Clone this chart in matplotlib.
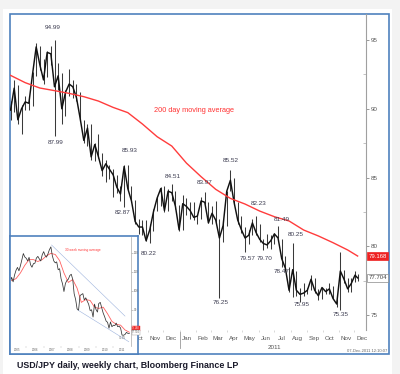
import matplotlib
matplotlib.use('Agg')
import matplotlib.pyplot as plt
import matplotlib.dates as mdates
import matplotlib.transforms as mtransforms
from matplotlib.patches import Rectangle
import pandas as pd

plt.rcParams['font.family'] = ['Liberation Sans', 'DejaVu Sans']

############ main chart: weekly bars of USD/JPY ############
week_dates = list(pd.date_range('2010-02-12', '2011-12-02', freq='W-FRI')) + [pd.Timestamp('2011-12-07')]
week_high = [90.6, 92.1, 91.7, 90.3, 90.9, 90.9, 92.7, 94.8, 94.6, 93.6, 94.2, 94.6, 94.99, 93.3, 92.6, 91.4,
             92.9, 92.1, 91.8, 91.2, 89.2, 88.9, 88.9, 87.5, 88.2, 86.8, 86.3, 85.9, 85.6, 85.2, 84.4, 85.93,
             85.9, 84.4, 83.4, 82.0, 81.9, 81.9, 81.6, 82.7, 83.6, 84.3, 84.4, 84.2, 84.51, 84.0, 83.0, 83.7,
             83.5, 83.2, 83.2, 82.3, 83.6, 83.97, 83.2, 82.9, 83.3, 82.0, 81.9, 84.0, 85.52, 85.0, 83.2, 82.2,
             81.4, 81.2, 82.0, 82.23, 81.6, 80.5, 80.9, 80.8, 81.0, 81.49, 80.5, 79.3, 78.5, 80.25, 78.2, 77.0,
             77.3, 77.0, 77.9, 77.7, 76.9, 77.0, 77.0, 77.3, 77.1, 76.2, 79.55, 78.3, 77.7, 77.7, 78.2, 78.0]
week_low = [89.2, 89.8, 88.9, 88.2, 89.9, 89.9, 90.2, 92.4, 92.8, 91.8, 92.3, 93.2, 87.99, 91.4, 88.9, 89.5,
            90.9, 90.8, 90.6, 89.1, 87.5, 87.3, 86.3, 86.2, 86.4, 85.1, 84.7, 84.9, 83.6, 83.9, 83.3, 82.87,
            84.1, 83.2, 81.6, 80.9, 80.8, 80.4, 80.22, 81.1, 82.6, 82.9, 82.5, 82.6, 83.3, 82.7, 81.1, 81.2,
            82.3, 82.0, 81.9, 81.6, 82.0, 83.1, 81.7, 81.6, 81.7, 76.25, 80.3, 81.5, 84.0, 83.1, 81.6, 81.0,
            79.57, 80.2, 80.8, 80.8, 80.3, 79.70, 79.9, 79.8, 80.2, 80.6, 78.5, 78.3, 76.7, 76.3, 76.4, 75.95,
            76.4, 76.5, 76.8, 76.6, 76.1, 76.2, 76.5, 76.5, 76.2, 75.6, 75.35, 77.3, 76.7, 76.7, 77.4, 77.5]
week_close = [89.9, 91.5, 89.2, 90.0, 90.5, 90.4, 92.5, 94.5, 93.2, 92.1, 94.1, 94.0, 91.6, 92.4, 90.0, 91.2,
              91.8, 91.6, 90.8, 89.3, 87.7, 88.6, 86.5, 87.4, 86.5, 85.5, 86.0, 85.6, 85.2, 84.3, 83.8, 85.8,
              84.2, 83.3, 81.8, 81.4, 81.4, 80.4, 81.2, 82.5, 83.5, 84.2, 82.6, 84.0, 83.9, 82.9, 81.2, 83.1,
              82.9, 82.6, 82.1, 82.2, 83.3, 83.2, 81.7, 82.4, 81.9, 80.6, 81.5, 84.0, 84.8, 83.2, 81.9, 81.2,
              80.6, 80.8, 81.7, 81.0, 80.5, 80.2, 80.1, 80.4, 80.9, 80.6, 79.1, 78.4, 76.8, 78.3, 76.8, 76.5,
              76.6, 76.8, 77.6, 76.8, 76.4, 77.0, 76.7, 76.9, 76.2, 75.8, 78.2, 77.6, 76.9, 77.3, 77.9, 77.7]

# 200 day moving average, read every 4th week
ma_dates = week_dates[::4] + [week_dates[-1]]
ma_values = [92.43, 91.90, 91.51, 91.32, 91.12, 90.88, 90.56, 90.10, 89.72, 88.89, 87.97, 87.29, 86.05,
             85.06, 84.14, 83.48, 83.07, 82.56, 82.15, 81.84, 81.18, 80.75, 80.26, 79.73, 79.29]

ann_labels = ['94.99', '87.99', '85.93', '82.87', '80.22', '84.51', '83.97', '85.52', '76.25',
              '82.23', '79.57', '79.70', '81.49', '80.25', '78.47', '75.95', '75.35']
ann_dates = ['2010-05-04', '2010-05-10', '2010-09-28', '2010-09-15', '2010-11-03', '2010-12-19',
             '2011-02-17', '2011-04-09', '2011-03-21', '2011-05-31', '2011-05-10', '2011-06-13',
             '2011-07-16', '2011-08-11', '2011-07-14', '2011-08-23', '2011-11-05']
ma_last_label = '79.168'
px_last_label = '77.704'
px_last = 77.704

############ inset: weekly chart 2005-2011 (monthly readings) ############
inset_dates = pd.date_range('2005-01-01', periods=84, freq='MS')
inset_close = [103.6, 104.6, 107.2, 104.8, 108.4, 110.9, 112.4, 110.6, 113.3, 116.4, 119.7, 117.9,
               117.2, 115.8, 117.7, 113.8, 112.5, 114.4, 114.6, 117.3, 118.2, 116.9, 115.8, 119.0,
               120.7, 118.6, 117.8, 119.5, 121.7, 123.2, 118.6, 115.8, 114.8, 115.3, 111.2, 111.7,
               106.4, 103.7, 99.7, 104.0, 105.5, 106.2, 108.1, 108.8, 106.1, 98.5, 95.5, 90.6,
               89.9, 97.6, 98.1, 98.6, 95.3, 96.4, 94.7, 93.0, 89.7, 90.1, 86.3, 93.1,
               90.3, 88.9, 93.4, 94.0, 91.2, 88.4, 86.5, 84.2, 83.5, 80.4, 83.7, 81.2,
               82.0, 81.8, 83.1, 81.2, 81.5, 80.5, 76.8, 76.7, 77.1, 78.2, 77.7, 77.7]
inset_ma_dates = inset_dates[2::3]
inset_ma = [105.5, 106.5, 109.5, 113.5, 116.5, 116.5, 115.5, 116.5, 118.5, 119.8, 119.2, 116.0, 109.5, 104.5,
            106.0, 101.5, 94.0, 95.5, 95.0, 91.5, 90.8, 91.5, 88.0, 84.0, 82.5, 82.0, 79.5, 78.3]
upper_dates = ['2007-06-15', '2011-09-01']
upper_vals = [124.2, 86.8]
lower_dates = ['2008-12-15', '2011-11-20']
lower_vals = [90.0, 73.3]
inset_years = ['2005', '2006', '2007', '2008', '2009', '2010', '2011']

W, H = 400, 374
def fx(px):
    return px / W
def fy(py):
    return 1 - py / H

fig = plt.figure(figsize=(4, 3.74), dpi=100, facecolor='#f3f3f3')

# background + frame, drawn in pixel coords
ax_bg = fig.add_axes([0, 0, 1, 1], zorder=0)
ax_bg.set_xlim(0, W)
ax_bg.set_ylim(H, 0)
ax_bg.axis('off')
ax_bg.add_patch(Rectangle((3, 9), 389, 365, fc='white', ec='none'))
ax_bg.add_patch(Rectangle((9.5, 13.5), 379, 340, fc='none', ec='#4f81bd', lw=1.2))
ax_bg.text(17, 366, 'USD/JPY daily, weekly chart, Bloomberg Finance LP', fontsize=6.4,
           weight='bold', color='#1a1a2a', ha='left', va='center')
ax_bg.text(387, 350.5, '07-Dec-2011 12:10:07', fontsize=3.0, color='#666666', ha='right', va='center')

########### main chart ###########
ax = fig.add_axes([fx(10), fy(330), (366 - 10) / W, (330 - 13.5) / H], zorder=1)
ax.set_facecolor('none')
ax.vlines(week_dates, week_low, week_high, color='#3a3a3a', lw=0.75)
ax.plot(week_dates, week_close, color='#111111', lw=1.05)
ax.plot(ma_dates, ma_values, color='#ff3c3c', lw=1.0)

ax.set_xlim(pd.Timestamp('2010-02-11'), pd.Timestamp('2011-12-23'))
ax.set_ylim(73.91, 96.93)

for s in ['left', 'top', 'bottom']:
    ax.spines[s].set_visible(False)
ax.spines['right'].set_color('#a0a0a0')
ax.spines['right'].set_linewidth(0.8)

ax.yaxis.tick_right()
ax.set_yticks([75, 80, 85, 90, 95])
ax.set_yticks([77.5, 82.5, 87.5, 92.5], minor=True)
ax.tick_params(axis='y', which='major', length=2.5, width=0.6, color='#888888',
               labelsize=4.5, labelcolor='#555555', pad=1)
ax.tick_params(axis='y', which='minor', length=2, width=0.5, color='#aaaaaa', direction='in')

# month labels; the ones hidden behind the inset are left out
first_shown = pd.Timestamp('2010-10-01')
def month_fmt(x, pos=None):
    d = mdates.num2date(x).replace(tzinfo=None)
    return d.strftime('%b') if d >= first_shown else ''

ax.xaxis.set_major_locator(mdates.MonthLocator(bymonthday=15))
ax.xaxis.set_major_formatter(plt.FuncFormatter(month_fmt))
ax.xaxis.set_minor_locator(mdates.MonthLocator())
ax.tick_params(axis='x', which='major', length=0, labelsize=4.5, labelcolor='#555555', pad=4.5)
ax.tick_params(axis='x', which='minor', length=1.5, width=0.4, color='#bbbbbb')

btrans = mtransforms.blended_transform_factory(ax.transData, ax.transAxes)
ax.plot([pd.Timestamp('2011-01-01')] * 2, [-0.006, -0.057], transform=btrans,
        color='#999999', lw=0.6, clip_on=False)
ax.text(pd.Timestamp('2011-07-01'), -0.054, '2011', transform=btrans, fontsize=4.5,
        color='#555555', ha='center', va='center')

ann_offsets = [13, -6, 14, -6, -10, 8, 9, 10, -5, 12, -6, -8, 6, 8, -4, -3, -4]
for txt, d, off in zip(ann_labels, ann_dates, ann_offsets):
    ax.annotate(txt, (pd.Timestamp(d), float(txt)), xytext=(0, off), textcoords='offset pixels',
                ha='center', va='center', fontsize=4.6, color='#3c3c50')

ax.text(pd.Timestamp('2011-01-29'), 89.91, '200 day moving average', fontsize=5.3,
        color='#ff3333', ha='center', va='center')

rtrans = mtransforms.blended_transform_factory(ax.transAxes, ax.transData)
ax.text(1.007, ma_values[-1], ma_last_label, transform=rtrans, fontsize=4.3, color='white',
        ha='left', va='center', clip_on=False,
        bbox=dict(boxstyle='square,pad=0.2', fc='#ee2222', ec='#ee2222', lw=0.5))
ax.text(1.007, px_last, px_last_label, transform=rtrans, fontsize=4.3, color='#444444',
        ha='left', va='center', clip_on=False,
        bbox=dict(boxstyle='square,pad=0.2', fc='white', ec='#888888', lw=0.5))

########### inset ###########
ax_box = fig.add_axes([fx(9.5), fy(353.5), (138 - 9.5) / W, (353.5 - 235.5) / H], zorder=3)
ax_box.set_facecolor('white')
ax_box.set_xticks([])
ax_box.set_yticks([])
for s in ax_box.spines.values():
    s.set_color('#4f81bd')
    s.set_linewidth(1.2)

ax_in = fig.add_axes([fx(10.5), fy(346), (131 - 10.5) / W, (346 - 237) / H], zorder=4)
ax_in.set_facecolor('none')
ax_in.plot(pd.to_datetime(upper_dates), upper_vals, color='#9db3dd', lw=0.4)
ax_in.plot(pd.to_datetime(lower_dates), lower_vals, color='#9db3dd', lw=0.4)
ax_in.plot(inset_ma_dates, inset_ma, color='#ff6060', lw=0.6)
ax_in.plot(inset_dates, inset_close, color='#333333', lw=0.55)
ax_in.set_xlim(pd.Timestamp('2005-02-05'), pd.Timestamp('2012-01-05'))
ax_in.set_ylim(71.05, 128.4)
for s in ['left', 'top', 'bottom']:
    ax_in.spines[s].set_visible(False)
ax_in.spines['right'].set_color('#aaaaaa')
ax_in.spines['right'].set_linewidth(0.5)
ax_in.yaxis.tick_right()
# the 80 label sits under the red value box, so only the tick is kept there
ax_in.set_yticks([80, 90, 100, 110, 120])
ax_in.set_yticklabels(['', '90', '100', '110', '120'])
ax_in.tick_params(axis='y', length=1.2, width=0.4, color='#999999', labelsize=2.2,
                  labelcolor='#666666', pad=0.8)
ax_in.set_xticks(pd.to_datetime([y + '-07-01' for y in inset_years]))
ax_in.set_xticklabels(inset_years)
ax_in.set_xticks(pd.to_datetime([y + '-01-01' for y in inset_years[1:]]), minor=True)
ax_in.tick_params(axis='x', which='major', length=0, labelsize=2.2, labelcolor='#666666', pad=1.5)
ax_in.tick_params(axis='x', which='minor', length=1.2, width=0.3, color='#bbbbbb')
ax_in.text(pd.Timestamp('2008-04-01'), 121.5, '30 week moving average', fontsize=2.3,
           color='#ff3333', ha='left', va='center')
ax_in.text(pd.Timestamp('2011-07-15'), 75.5, '75.35', fontsize=2.0, color='#555555',
           ha='center', va='center')
itrans = mtransforms.blended_transform_factory(ax_in.transAxes, ax_in.transData)
ax_in.text(1.01, 80.3, '79.168', transform=itrans, fontsize=1.8, color='white',
           ha='left', va='center', clip_on=False,
           bbox=dict(boxstyle='square,pad=0.15', fc='#ee2222', ec='#ee2222', lw=0.3))
ax_in.text(1.01, 78.2, '77.704', transform=itrans, fontsize=1.8, color='#555555',
           ha='left', va='center', clip_on=False,
           bbox=dict(boxstyle='square,pad=0.15', fc='white', ec='#999999', lw=0.3))

fig.savefig('out.png', dpi=100, facecolor=fig.get_facecolor())
